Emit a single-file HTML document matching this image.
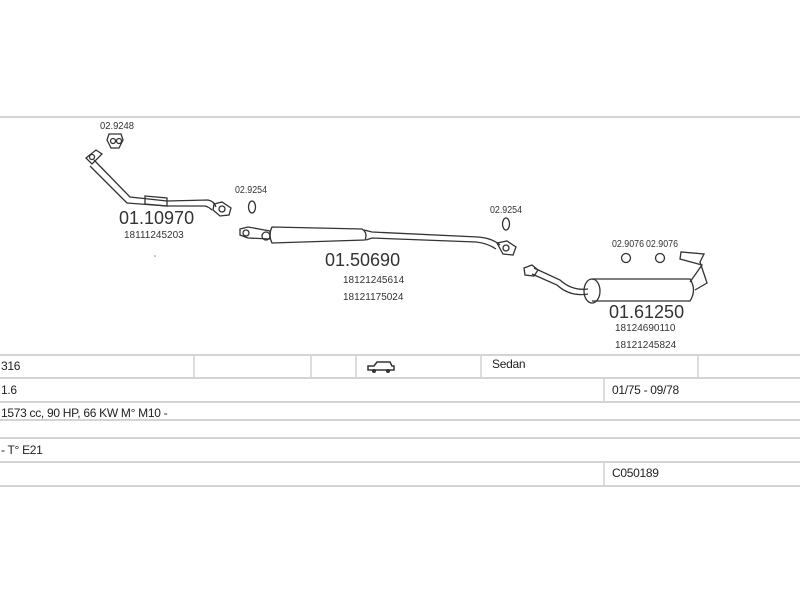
<!DOCTYPE html>
<html><head><meta charset="utf-8"><style>
body{margin:0;width:800px;height:600px;background:#fff;overflow:hidden;position:relative;font-family:"Liberation Sans",sans-serif;color:#222}
.hl{position:absolute;left:0;width:800px;height:2px;background:#d4d4d4}
.vl{position:absolute;width:2px;background:#ddd}
.t{position:absolute;font-size:12px;letter-spacing:-0.3px}
</style></head><body>
<div class="hl" style="top:116px"></div>
<svg width="800" height="360" style="position:absolute;left:0;top:0" font-family="Liberation Sans, sans-serif" fill="none" stroke="#333" stroke-width="1.3">
<!-- part 1 -->
<text x="100" y="129" font-size="10" fill="#333" stroke="none" textLength="34" lengthAdjust="spacingAndGlyphs">02.9248</text>
<path d="M109 134 l12 0 l2 6 l-4 8 l-8 0 l-4 -8 z"/><circle cx="113" cy="141" r="2.5"/><circle cx="119" cy="141" r="2.5"/>
<path d="M86 158 l10 -8 l6 4 l-10 10 z"/><circle cx="92" cy="157" r="2.5"/>
<path d="M94 160 L130 197 L167 201 L208 200 Q214 201 216 207 M90 166 L127 203 L167 206 L205 206 Q209 207 212 210"/>
<path d="M145 196 l22 2 l0 8 l-22 -2 z"/>
<path d="M214 204 l8 -2 l9 6 l-2 7 l-9 1 l-7 -6z"/><circle cx="222" cy="209" r="3"/>
<text x="119" y="224" font-size="18" fill="#333" stroke="none">01.10970</text>
<text x="124" y="238" font-size="10" fill="#333" stroke="none">18111245203</text>
<circle cx="155" cy="256" r="0.8" fill="#888" stroke="none"/>
<!-- part 2 -->
<text x="235" y="193" font-size="10" fill="#333" stroke="none" textLength="32" lengthAdjust="spacingAndGlyphs">02.9254</text>
<ellipse cx="252" cy="207" rx="3.5" ry="6"/>
<path d="M240 229 l8 -2 l22 4 l0 8 l-22 -1 l-8 -3 z"/><circle cx="246" cy="233" r="3"/><circle cx="266" cy="236" r="4"/>
<path d="M272 227 L362 229 Q368 233 365 240 L272 243 Q268 235 272 227 Z"/>
<path d="M364 230 L372 232 L478 237 Q492 238 500 245 M366 240 L372 238 L476 242 Q487 243 496 249"/>
<text x="490" y="213" font-size="10" fill="#333" stroke="none" textLength="32" lengthAdjust="spacingAndGlyphs">02.9254</text>
<ellipse cx="506" cy="224" rx="3.5" ry="6"/>
<path d="M497 243 l10 -2 l9 6 l-3 8 l-10 -1 z"/><circle cx="506" cy="248" r="3"/>
<text x="325" y="266" font-size="18" fill="#333" stroke="none">01.50690</text>
<text x="343" y="283" font-size="10" fill="#333" stroke="none">18121245614</text>
<text x="343" y="300" font-size="10" fill="#333" stroke="none">18121175024</text>
<!-- part 3 -->
<path d="M524 268 l8 -3 l6 5 l-4 6 l-9 -1 z"/>
<path d="M534 268 L560 280 Q572 291 588 289 M532 274 L557 285 Q570 297 588 294"/>
<ellipse cx="592" cy="291" rx="8" ry="12"/>
<path d="M592 279 L690 279 Q697 290 690 301 L592 301"/>
<path d="M690 282 L702 265 L680 259 L681 252 L704 254 L700 262 L707 283 L695 290"/>
<text x="612" y="247" font-size="10" fill="#333" stroke="none" textLength="32" lengthAdjust="spacingAndGlyphs">02.9076</text>
<text x="646" y="247" font-size="10" fill="#333" stroke="none" textLength="32" lengthAdjust="spacingAndGlyphs">02.9076</text>
<circle cx="626" cy="258" r="4.5"/><circle cx="660" cy="258" r="4.5"/>
<text x="609" y="318" font-size="18" fill="#333" stroke="none">01.61250</text>
<text x="615" y="331" font-size="10" fill="#333" stroke="none">18124690110</text>
<text x="615" y="348" font-size="10" fill="#333" stroke="none">18121245824</text>
</svg>
<div class="hl" style="top:354px"></div>
<div class="hl" style="top:377px"></div>
<div class="hl" style="top:401px"></div>
<div class="hl" style="top:419px"></div>
<div class="hl" style="top:437px"></div>
<div class="hl" style="top:461px"></div>
<div class="hl" style="top:485px"></div>
<div class="vl" style="left:193px;top:356px;height:21px"></div>
<div class="vl" style="left:310px;top:356px;height:21px"></div>
<div class="vl" style="left:355px;top:356px;height:21px"></div>
<div class="vl" style="left:480px;top:356px;height:21px"></div>
<div class="vl" style="left:697px;top:356px;height:21px"></div>
<div class="vl" style="left:603px;top:379px;height:22px"></div>
<div class="vl" style="left:603px;top:463px;height:22px"></div>
<div class="t" style="left:1px;top:359px">316</div>
<svg style="position:absolute;left:366px;top:360px" width="30" height="14"><path d="M2 6 L8 6 L11 2 L24 2 L26 6 L28 6 L28 10 L2 10 Z" fill="none" stroke="#333" stroke-width="1.5"/><circle cx="8" cy="11" r="2" fill="#333"/><circle cx="22" cy="11" r="2" fill="#333"/></svg>
<div class="t" style="left:492px;top:357px">Sedan</div>
<div class="t" style="left:1px;top:383px">1.6</div>
<div class="t" style="left:612px;top:383px">01/75 - 09/78</div>
<div class="t" style="left:1px;top:406px">1573 cc, 90 HP, 66 KW  M° M10 -</div>
<div class="t" style="left:1px;top:443px">- T° E21</div>
<div class="t" style="left:612px;top:466px">C050189</div>
</body></html>
